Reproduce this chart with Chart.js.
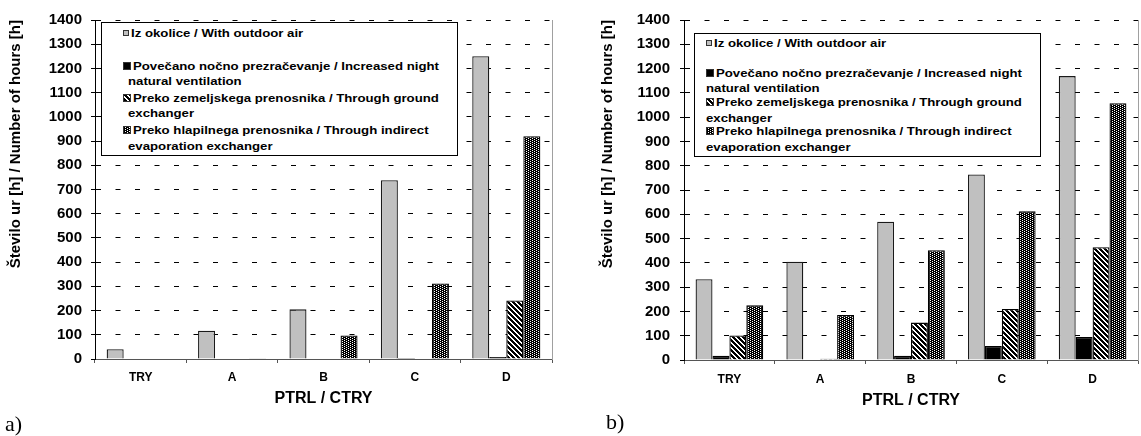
<!DOCTYPE html>
<html>
<head>
<meta charset="utf-8">
<script src="https://cdn.jsdelivr.net/npm/chart.js@4.4.1/dist/chart.umd.min.js"></script>
<style>
  body { margin: 0; background: #fff; width: 1141px; height: 436px; position: relative; overflow: hidden; font-family: "Liberation Sans", Arial, sans-serif; }
  canvas.chart { position: absolute; top: 0; }
  .legend { position: absolute; border: 1px solid #000; background: #fff; box-sizing: border-box; }
  .legend span { position: absolute; white-space: nowrap; font: bold 11px "Liberation Sans", Arial, sans-serif; line-height: 13px; color: #000; transform: scaleX(1.2); transform-origin: 0 0; }
  .legend canvas { position: absolute; }
  .tag { position: absolute; font: 22px "Liberation Serif", "Times New Roman", serif; line-height: 26px; color: #000; }
</style>
</head>
<body>
<canvas id="chartA" class="chart" width="570" height="436" style="left:0"></canvas>
<canvas id="chartB" class="chart" width="571" height="436" style="left:570px"></canvas>
<div class="tag" style="left:5px;top:411px">a)</div>
<div class="tag" style="left:606px;top:409px">b)</div>

<script>
// --- data ---
const categories = ["TRY", "A", "B", "C", "D"];
const seriesNames = [
  ["Iz okolice / With outdoor air"],
  ["Povečano nočno prezračevanje / Increased night", "natural ventilation"],
  ["Preko zemeljskega prenosnika / Through ground", "exchanger"],
  ["Preko hlapilnega prenosnika / Through indirect", "evaporation exchanger"]
];
// chart a)
const outdoorA = [40, 117, 205, 738, 1250];
const nightA = [0, 0, 0, 4, 8];
const groundA = [0, 0, 0, 0, 242];
const evapA = [0, 3, 97, 312, 920];
// chart b)
const outdoorB = [333, 405, 569, 764, 1169];
const nightB = [17, 0, 17, 58, 95];
const groundB = [101, 5, 154, 210, 464];
const evapB = [225, 185, 452, 612, 1057];

const yMax = 1400;
const yStep = 100;
const yTitle = "Število ur [h] / Number of hours [h]";
const xTitle = "PTRL / CTRY";

// ---------- patterns ----------
function makeTile(kind) {
  const n = kind === "hatch" ? 5 : 4;
  const t = document.createElement("canvas");
  t.width = t.height = n;
  const c = t.getContext("2d");
  c.fillStyle = "#fff";
  c.fillRect(0, 0, n, n);
  c.fillStyle = "#000";
  const dotsWhite = ["0,0", "2,1", "0,2", "2,3"];
  for (let y = 0; y < n; y++) {
    for (let x = 0; x < n; x++) {
      if (kind === "hatch" && (x - y + 10) % 5 < 3) c.fillRect(x, y, 1, 1);
      if (kind === "dots" && !dotsWhite.includes(x + "," + y)) c.fillRect(x, y, 1, 1);
    }
  }
  return t;
}
const hatchTile = makeTile("hatch");
const dotsTile = makeTile("dots");

function fills(ctx) {
  return [
    "#c0c0c0",
    "#000000",
    ctx.createPattern(hatchTile, "repeat"),
    ctx.createPattern(dotsTile, "repeat")
  ];
}
const borders = ["#1a1a1a", "#000000", "#000000", "#000000"];

// ---------- chart ----------
function makeChart(id, values, lay) {
  const canvas = document.getElementById(id);
  const ctx = canvas.getContext("2d");
  const f = fills(ctx);
  const bold = (size) => ({ family: "'Liberation Sans', Arial, sans-serif", size: size, weight: "bold" });

  new Chart(ctx, {
    type: "bar",
    data: {
      labels: categories,
      datasets: values.map((v, i) => ({
        label: seriesNames[i].join(" "),
        data: v,
        backgroundColor: f[i],
        borderColor: borders[i],
        borderWidth: 1.3,
        borderSkipped: "bottom",
        inflateAmount: 0,
        categoryPercentage: 0.745,
        barPercentage: 1
      }))
    },
    options: {
      responsive: false,
      animation: false,
      events: [],
      layout: { padding: { top: 20, right: lay.right, left: 0, bottom: 0 } },
      plugins: { legend: { display: false }, tooltip: { enabled: false } },
      scales: {
        x: {
          grid: { display: true, drawOnChartArea: false, offset: true, tickLength: 4, color: "#555" },
          border: { color: "#555" },
          ticks: { color: "#000", font: bold(12), padding: lay.xPad },
          title: { display: true, text: xTitle, color: "#000", font: bold(16), padding: { top: 0, bottom: lay.xTitleBottom } },
          afterFit: (s) => { s.height = lay.xHeight; }
        },
        y: {
          min: 0,
          max: yMax,
          ticks: { stepSize: yStep, color: "#000", font: bold(15), padding: lay.yPad, callback: (v) => String(v) },
          grid: { color: "#000", tickLength: 4, tickColor: "#000" },
          border: { color: "#000", dash: [5, 14.5] },
          title: { display: true, text: yTitle, color: "#000", font: bold(15), align: "end", padding: { top: lay.yTitleTop, bottom: 0 } },
          afterFit: (s) => { s.width = lay.yWidth; }
        },
        frame: {
          type: "linear",
          axis: "y",
          position: "right",
          ticks: { display: false },
          grid: { drawOnChartArea: false, drawTicks: false },
          border: { color: "#a0a0a0" },
          afterFit: (s) => { s.width = 0; }
        }
      }
    }
  });
}

makeChart("chartA", [outdoorA, nightA, groundA, evapA],
  { right: 18, xHeight: 77, xPad: 7, xTitleBottom: 28, yWidth: 95, yPad: 9, yTitleTop: 7 });
makeChart("chartB", [outdoorB, nightB, groundB, evapB],
  { right: 3, xHeight: 76, xPad: 8, xTitleBottom: 26, yWidth: 114, yPad: 10, yTitleTop: 29 });

// ---------- legends ----------
function makeLegend(box) {
  const el = document.createElement("div");
  el.className = "legend";
  el.style.left = box.left + "px";
  el.style.top = box.top + "px";
  el.style.width = box.width + "px";
  el.style.height = box.height + "px";
  document.body.appendChild(el);
  const tiles = [null, null, hatchTile, dotsTile];
  const colors = ["#c0c0c0", "#000"];
  let line = 0;
  seriesNames.forEach((lines, i) => {
    const size = i === 0 ? 6 : 8;
    const m = document.createElement("canvas");
    m.width = m.height = size;
    m.style.left = box.markerX + "px";
    m.style.top = (box.lines[line] - size / 2) + "px";
    const mc = m.getContext("2d");
    mc.fillStyle = tiles[i] ? mc.createPattern(tiles[i], "repeat") : colors[i];
    mc.fillRect(0, 0, size, size);
    mc.strokeStyle = "#333";
    mc.strokeRect(0.5, 0.5, size - 1, size - 1);
    el.appendChild(m);
    lines.forEach((t, j) => {
      const s = document.createElement("span");
      s.textContent = t;
      s.style.left = (j === 0 ? box.markerX + size + 2 : box.contX) + "px";
      s.style.top = (box.lines[line] - 6.5) + "px";
      el.appendChild(s);
      line++;
    });
  });
}

makeLegend({ left: 101, top: 22, width: 357, height: 134, markerX: 21, contX: 26,
  lines: [10, 43, 58, 75, 90, 107, 123] });
makeLegend({ left: 694, top: 33, width: 347, height: 124, markerX: 11, contX: 11,
  lines: [9, 39, 54, 68, 84, 97, 113] });
</script>
</body>
</html>
